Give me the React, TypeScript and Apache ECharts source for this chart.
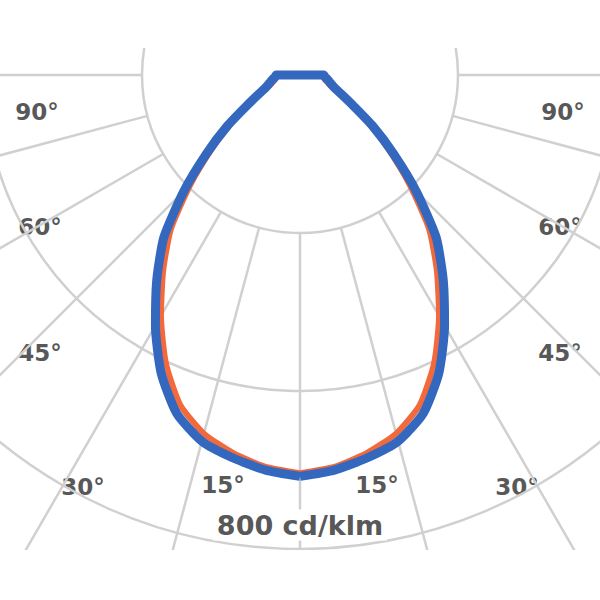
import { useEffect, useRef } from 'react';
import * as echarts from 'echarts';

// gamma angles, 0 = straight down, step 5 deg up to 180
const gammaAngles = [
  0, 5, 10, 15, 20, 25, 30, 35, 40, 45, 50, 55, 60, 65, 70, 75, 80, 85, 90,
  95, 100, 105, 110, 115, 120, 125, 130, 135, 140, 145, 150, 155, 160, 165, 170, 175, 180,
];

// C0 - C180 plane (blue), cd/klm
const planeC0 = [
  254, 251, 246, 240, 228, 208, 183, 158, 134, 104, 77, 56, 39, 29, 23, 20, 18, 16, 15,
  0, 0, 0, 0, 0, 0, 0, 0, 0, 0, 0, 0, 0, 0, 0, 0, 0, 0,
];

// C90 - C270 plane (orange), cd/klm
const planeC90 = [
  252, 249, 243, 235, 222, 201, 176, 151, 127, 98, 73, 53, 37, 27, 21, 18, 16, 15, 14,
  0, 0, 0, 0, 0, 0, 0, 0, 0, 0, 0, 0, 0, 0, 0, 0, 0, 0,
];

const angleLabels = ['90°', '60°', '45°', '30°', '15°'];
const unitLabel = '800 cd/klm';

// full loop: one side goes 0 -> 180, the other comes back 180 -> 360
function loop(values: number[]) {
  const pts: number[][] = gammaAngles.map((a, i) => [values[i], a]);
  for (let i = gammaAngles.length - 2; i >= 0; i--) {
    pts.push([values[i], 360 - gammaAngles[i]]);
  }
  return pts;
}

export default function App() {
  const chartRef = useRef<HTMLDivElement>(null);

  useEffect(() => {
    if (!chartRef.current) return;
    const chart = echarts.init(chartRef.current, undefined, { renderer: 'svg' });

    const cx = 300;
    const cy = 27;
    const gridColor = '#d0d0d0';
    const labelFont = 'bold 23px "DejaVu Sans", sans-serif';

    // label spots, left side then mirrored
    const leftPos = [
      [37, 64],
      [40, 179],
      [40, 305],
      [83, 439],
      [223, 437],
    ];
    const labelEls: any[] = [];
    angleLabels.forEach((t, i) => {
      const [x, y] = leftPos[i];
      [x, 600 - x].forEach((px) => {
        labelEls.push({
          type: 'text',
          x: px,
          y,
          silent: true,
          style: {
            text: t,
            fill: '#585858',
            font: labelFont,
            textAlign: 'center',
            textVerticalAlign: 'middle',
            align: 'center',
            verticalAlign: 'middle',
          },
        });
      });
    });

    const option: any = {
      animation: false,
      backgroundColor: '#ffffff',
      polar: [
        { center: [cx, cy], radius: [158, 632] },
        { center: [cx, cy], radius: 474 },
      ],
      angleAxis: [
        {
          polarIndex: 0,
          type: 'value',
          min: 0,
          max: 360,
          interval: 15,
          startAngle: 270,
          axisLine: { show: false },
          axisTick: { show: false },
          axisLabel: { show: false },
          splitLine: { show: true, lineStyle: { color: gridColor, width: 2.5 } },
        },
        {
          polarIndex: 1,
          type: 'value',
          min: 0,
          max: 360,
          startAngle: 270,
          axisLine: { show: false },
          axisTick: { show: false },
          axisLabel: { show: false },
          splitLine: { show: false },
        },
      ],
      radiusAxis: [
        {
          polarIndex: 0,
          type: 'value',
          min: 100,
          max: 400,
          interval: 100,
          axisLine: { show: false },
          axisTick: { show: false },
          axisLabel: { show: false },
          splitLine: { show: true, lineStyle: { color: gridColor, width: 2.5 } },
        },
        {
          polarIndex: 1,
          type: 'value',
          min: 0,
          max: 300,
          axisLine: { show: false },
          axisTick: { show: false },
          axisLabel: { show: false },
          splitLine: { show: false },
        },
      ],
      series: [
        {
          name: 'C90 - C270',
          type: 'line',
          coordinateSystem: 'polar',
          polarIndex: 1,
          data: loop(planeC90),
          showSymbol: false,
          smooth: 0.2,
          z: 2,
          lineStyle: { color: '#f26a3c', width: 6, join: 'round' },
        },
        {
          name: 'C0 - C180',
          type: 'line',
          coordinateSystem: 'polar',
          polarIndex: 1,
          data: loop(planeC0),
          showSymbol: false,
          smooth: 0.2,
          z: 3,
          lineStyle: { color: '#3468be', width: 9, join: 'round' },
        },
      ],
      graphic: [
        ...labelEls,
        {
          type: 'text',
          x: cx,
          y: 477,
          silent: true,
          z: 10,
          style: {
            text: unitLabel,
            fill: '#585858',
            font: 'bold 27px "DejaVu Sans", sans-serif',
            textAlign: 'center',
            textVerticalAlign: 'middle',
            align: 'center',
            verticalAlign: 'middle',
            backgroundColor: '#ffffff',
            padding: [2, 4],
          },
        },
      ],
    };

    chart.setOption(option);
    return () => {
      chart.dispose();
    };
  }, []);

  return (
    <div
      ref={chartRef}
      style={{
        position: 'fixed',
        left: 0,
        top: 48,
        width: 600,
        height: 502,
        overflow: 'hidden',
        background: '#ffffff',
      }}
    />
  );
}
